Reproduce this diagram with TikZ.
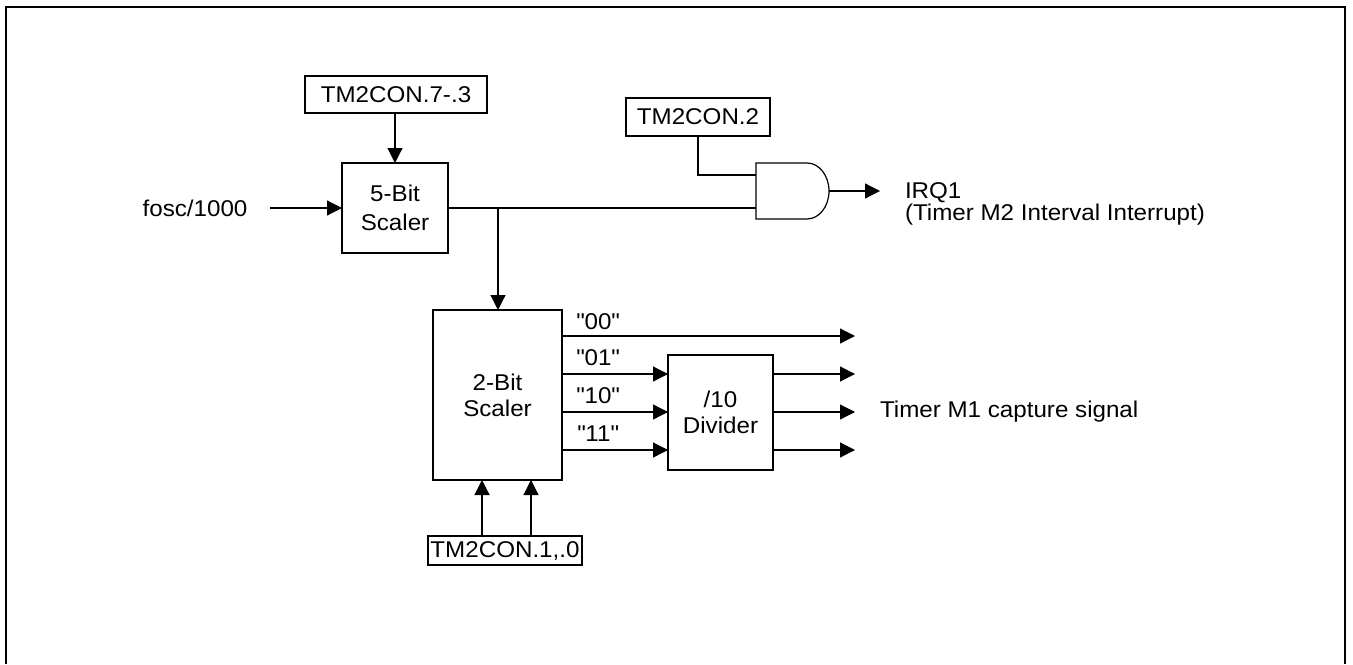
\documentclass[tikz,border=0pt]{standalone}
\usepackage{fontspec}
\setmainfont{Liberation Sans}[FakeStretch=1.06]
\usetikzlibrary{arrows.meta}
\begin{document}
\begin{tikzpicture}[x=0.5pt,y=-0.5pt,
  line width=0.6pt,
  every node/.style={inner sep=0pt,outer sep=0pt,font=\fontsize{11.4}{13}\selectfont},
  box/.style={draw,align=center},
  arr/.style={-{Triangle[length=7.5pt,width=7.5pt]}},
  lbl/.style={align=left}]
\useasboundingbox (0,0) rectangle (1353,664);
\draw[line width=1pt] (6,664) -- (6,7) -- (1345,7) -- (1345,664);

% boxes
\node[box,minimum width=91pt,minimum height=18.5pt] (t73) at (396,94.5) {TM2CON.7-.3};
\node[box,minimum width=53pt,minimum height=45pt,font=\fontsize{11.4}{14.5}\selectfont] (s5) at (395,208) {5-Bit\\Scaler};
\node[box,minimum width=72pt,minimum height=19pt] (t2) at (698,117) {TM2CON.2};
\node[box,minimum width=64.5pt,minimum height=85pt] (s2) at (497.5,395) {2-Bit\\Scaler};
\node[box,minimum width=52.5pt,minimum height=57.5pt] (div) at (720.5,412.5) {/10\\Divider};
\node[box,minimum width=77pt,minimum height=14.5pt] (t10) at (505,550.5) {TM2CON.1,.0};

% texts
\node (fosc) at (195,208) {fosc/1000};
\node[lbl,anchor=west,font=\fontsize{11.4}{10.8}\selectfont] (irq) at (905,204) {IRQ1\\(Timer M2 Interval Interrupt)};
\node[anchor=west] (cap) at (880,412) {Timer M1 capture signal};
\node (l00) at (598,322) {\textquotedbl 00\textquotedbl};
\node (l01) at (598,358) {\textquotedbl 01\textquotedbl};
\node (l10) at (598,396) {\textquotedbl 10\textquotedbl};
\node (l11) at (598,434) {\textquotedbl 11\textquotedbl};

% AND gate
\coordinate (gtl) at (756,163);
\coordinate (gin1) at (756,175);
\coordinate (gin2) at (756,208);
\coordinate (gout) at (829,191);
\draw (gtl) -- (807,163) arc[start angle=90,end angle=-90,x radius=11pt,y radius=14pt] -- (756,219) -- cycle;

% coordinates
\coordinate (fin) at (270,208);
\coordinate (br) at (498,208);
\coordinate (irqtip) at (880,191);
\coordinate (o00) at (855,336);
\coordinate (o01) at (855,374);
\coordinate (o10) at (855,412);
\coordinate (o11) at (855,450);
\coordinate (a1) at (482,536);
\coordinate (a2) at (531,536);

% connectors
\draw[arr] (t73.south -| s5.north) -- (s5.north);
\draw[arr] (fin) -- (s5.west);
\draw (s5.east) -- (gin2);
\draw (t2.south) |- (gin1);
\draw[arr] (gout) -- (irqtip);
\draw[arr] (br) -- (br |- s2.north);

\draw[arr] (s2.east |- o00) -- (o00);
\draw[arr] (s2.east |- o01) -- (div.west |- o01);
\draw[arr] (s2.east |- o10) -- (div.west |- o10);
\draw[arr] (s2.east |- o11) -- (div.west |- o11);
\draw[arr] (div.east |- o01) -- (o01);
\draw[arr] (div.east |- o10) -- (o10);
\draw[arr] (div.east |- o11) -- (o11);

\draw[arr] (a1) -- (a1 |- s2.south);
\draw[arr] (a2) -- (a2 |- s2.south);
\end{tikzpicture}
\end{document}
